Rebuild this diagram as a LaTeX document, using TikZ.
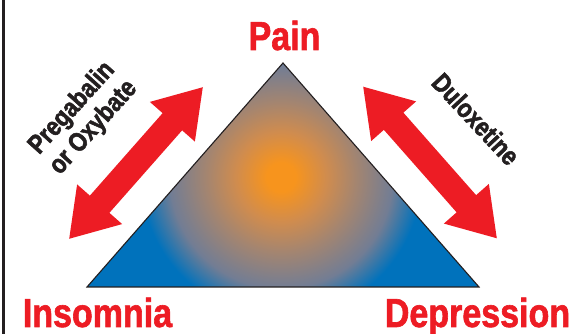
\documentclass[tikz,border=0pt]{standalone}
\usepackage{fontspec}
\setmainfont{Liberation Sans}
\newfontfamily\heavyfont{Liberation Sans}[FakeStretch=0.84, BoldFeatures={FakeBold=1.5}]
\newfontfamily\drugfont{Liberation Sans}[FakeStretch=0.84, BoldFeatures={FakeBold=2}]
\definecolor{fmred}{HTML}{ED1C24}
\definecolor{fmink}{HTML}{231F20}
\definecolor{shA}{HTML}{F7941D}
\definecolor{shB}{HTML}{D08C4E}
\definecolor{shC}{HTML}{A48570}
\definecolor{shD}{HTML}{727D94}
\definecolor{shE}{HTML}{0072BC}
% with a circle of radius 240pt, 25bp of the shading reach the radius: 1bp = 9.6pt
\pgfdeclareradialshading{painshade}{\pgfpoint{0bp}{0bp}}{color(0bp)=(shA); color(1.5bp)=(shA); color(4.7bp)=(shB); color(7.8bp)=(shC); color(11.6bp)=(shD); color(14.6bp)=(shE); color(50bp)=(shE)}
\tikzset{
  lbl/.style={text=fmred, font=\heavyfont\fontsize{40.5}{44}\selectfont\bfseries, inner sep=0pt, anchor=base},
  drug/.style={text=fmink, font=\drugfont\fontsize{26.5}{29}\selectfont\bfseries, inner sep=0pt, align=center},
  dblarrow/.pic={\fill[fmred] (101,0) -- (55,30) -- (55,13) -- (-55,13) -- (-55,30) -- (-101,0) -- (-55,-30) -- (-55,-13) -- (55,-13) -- (55,-30) -- cycle;}
}
\begin{document}
\begin{tikzpicture}[x=1pt,y=1pt]
\useasboundingbox (0,0) rectangle (579,334);
\fill[white] (0,0) rectangle (579,334);
% frame line
\draw[fmink, line width=2.2pt] (3.5,0) -- (3.5,334);
% triangle
\coordinate (apex) at (283,271);
\coordinate (bl) at (87,47);
\coordinate (br) at (479,47);
\begin{scope}
\clip (apex) -- (bl) -- (br) -- cycle;
\shade[shading=painshade] (281,157) circle (240pt);
\end{scope}
\draw[fmink, line width=1.1pt, line join=miter] (apex) -- (bl) -- (br) -- cycle;
% arrows
\coordinate (la) at (136,171);
\coordinate (ra) at (430,171.5);
\pic[rotate=48.6] at (la) {dblarrow};
\pic[rotate=-48.6] at (ra) {dblarrow};
% texts
\node[drug, rotate=48] (pg) at (83,216) {Pregabalin\\or Oxybate};
\node[drug, rotate=-47] (dx) at (476,215) {Duloxetine};
\node[lbl] (pain) at (284.5,284) {Pain};
\node[lbl] (ins) at (97.5,7) {Insomnia};
\node[lbl] (dep) at (477.5,7) {Depression};
\end{tikzpicture}
\end{document}
